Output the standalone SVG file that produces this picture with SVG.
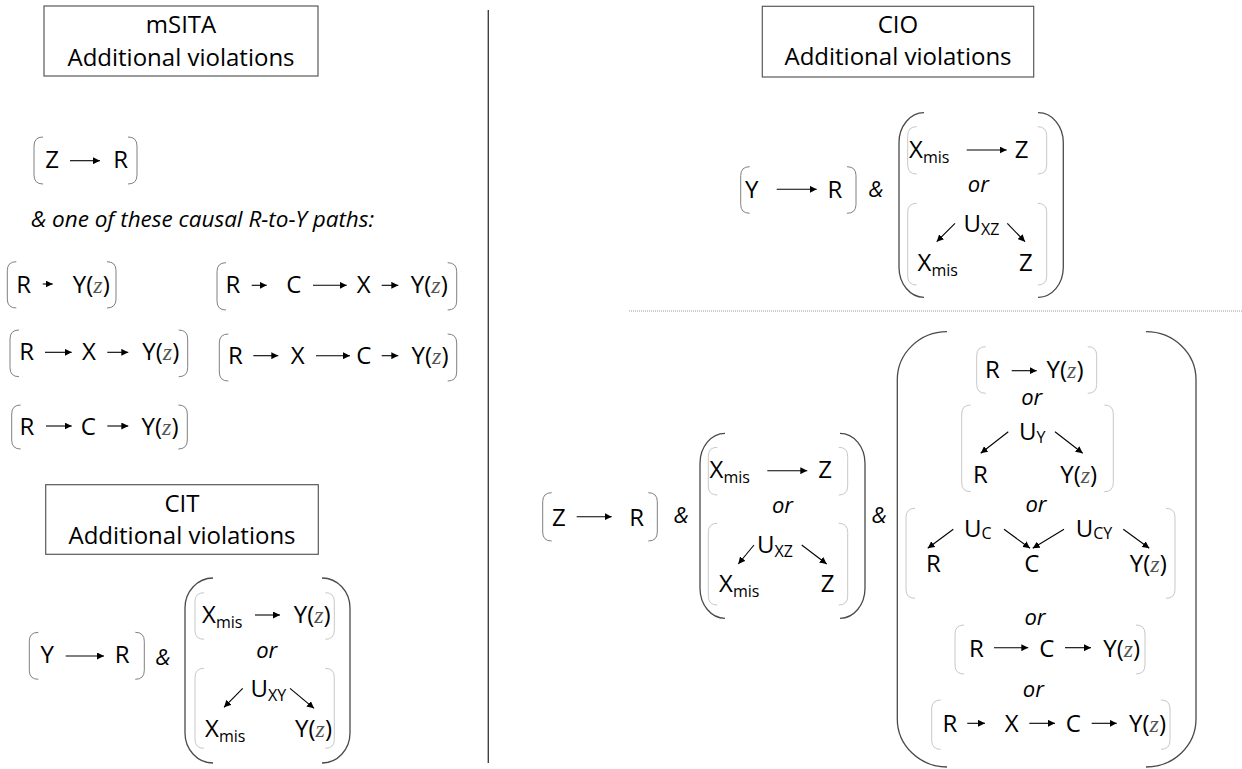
<svg xmlns="http://www.w3.org/2000/svg" width="1242" height="769" viewBox="0 0 1242 769">
<style>
text{font-family:"Open Sans","Liberation Sans",sans-serif;fill:#000}
.n{font-size:24px;text-anchor:middle}
.ns{font-size:24px;text-anchor:start}
.t{font-size:24px;text-anchor:middle}
.sub{font-size:16px}
.z{font-family:"Liberation Serif",serif;font-style:italic;fill:#555}
.it{font-style:italic;font-size:22px;text-anchor:middle}
.box{fill:none;stroke:#595959;stroke-width:1.2}
.b1{fill:none;stroke:#808080;stroke-width:1}
.b2{fill:none;stroke:#c8c8c8;stroke-width:1}
.bp{fill:none;stroke:#4a4a4a;stroke-width:1.3}
.a{stroke:#000;stroke-width:1.1;marker-end:url(#ah)}
</style>
<defs>
<marker id="ah" viewBox="0 0 8 8" refX="8" refY="4" markerWidth="7" markerHeight="7" markerUnits="userSpaceOnUse" orient="auto">
<path d="M0,0 L8,4 L0,8 z" fill="#000"/>
</marker>
</defs>
<rect width="1242" height="769" fill="#fff"/>

<g id="dividers">
<line x1="488.3" y1="10" x2="488.3" y2="763" stroke="#404040" stroke-width="1.4"/>
<line x1="629" y1="311" x2="1242" y2="311" stroke="#9a9a9a" stroke-width="1" stroke-dasharray="1 1"/>
</g>

<!-- mSITA -->
<g id="msita-title">
<rect class="box" x="44" y="6" width="274" height="70"/>
<text class="t" x="181" y="33">mSITA</text>
<text class="t" x="181" y="66">Additional violations</text>
</g>
<g id="msita-zr">
<path class="b1" d="M43,137 Q34,137 34,146 L34,175 Q34,184 43,184 M128,137 Q137,137 137,146 L137,175 Q137,184 128,184"/>
<text class="n" x="52" y="168">Z</text>
<text class="n" x="120.7" y="168">R</text>
</g>
<g id="msita-label">
<text x="31" y="227" style="font-style:italic;font-size:22.5px">&amp; one of these causal R-to-Y paths:</text>
</g>
<g id="path-ry">
<path class="b1" d="M16.3,261.7 Q7.3,261.7 7.3,270.7 L7.3,299 Q7.3,308 16.3,308 M107,261.7 Q116,261.7 116,270.7 L116,299 Q116,308 107,308"/>
<text class="n" x="23.7" y="292.7">R</text>
<text class="n" x="91.3" y="292.7">Y(<tspan class="z">z</tspan>)</text>
</g>
<g id="path-rcxy">
<path class="b1" d="M226,262.7 Q217,262.7 217,271.7 L217,301 Q217,310 226,310 M447.7,262.7 Q456.7,262.7 456.7,271.7 L456.7,301 Q456.7,310 447.7,310"/>
<text class="n" x="233" y="292.7">R</text>
<text class="n" x="293.7" y="292.7">C</text>
<text class="n" x="363.7" y="292.7">X</text>
<text class="n" x="429.3" y="292.7">Y(<tspan class="z">z</tspan>)</text>
</g>
<g id="path-rxy">
<path class="b1" d="M19,330 Q10,330 10,339 L10,367.7 Q10,376.7 19,376.7 M178.7,330 Q187.7,330 187.7,339 L187.7,367.7 Q187.7,376.7 178.7,376.7"/>
<text class="n" x="26.7" y="360">R</text>
<text class="n" x="89" y="360">X</text>
<text class="n" x="160.8" y="360">Y(<tspan class="z">z</tspan>)</text>
</g>
<g id="path-rxcy">
<path class="b1" d="M228.3,334 Q219.3,334 219.3,343 L219.3,372 Q219.3,381 228.3,381 M447.7,334 Q456.7,334 456.7,343 L456.7,372 Q456.7,381 447.7,381"/>
<text class="n" x="235.5" y="364">R</text>
<text class="n" x="297.8" y="364">X</text>
<text class="n" x="363.7" y="364">C</text>
<text class="n" x="430" y="364">Y(<tspan class="z">z</tspan>)</text>
</g>
<g id="path-rcy">
<path class="b1" d="M20.7,405 Q11.7,405 11.7,414 L11.7,440 Q11.7,449 20.7,449 M178.3,405 Q187.3,405 187.3,414 L187.3,440 Q187.3,449 178.3,449"/>
<text class="n" x="27" y="435">R</text>
<text class="n" x="88.3" y="435">C</text>
<text class="n" x="160" y="435">Y(<tspan class="z">z</tspan>)</text>
</g>

<!-- CIT -->
<g id="cit-title">
<rect class="box" x="45.7" y="484.7" width="272.6" height="69.6"/>
<text class="t" x="182" y="512.3">CIT</text>
<text class="t" x="182" y="544.3">Additional violations</text>
</g>
<g id="cit-yr">
<path class="b1" d="M38.3,632.3 Q29.3,632.3 29.3,641.3 L29.3,670.3 Q29.3,679.3 38.3,679.3 M135.3,632.3 Q144.3,632.3 144.3,641.3 L144.3,670.3 Q144.3,679.3 135.3,679.3"/>
<text class="n" x="47.2" y="663.3">Y</text>
<text class="n" x="122.2" y="663.3">R</text>
<text class="it" x="163" y="665">&amp;</text>
</g>
<g id="cit-options">
<path class="bp" d="M213,578 A28,30 0 0 0 185,608 L185,733 A28,30 0 0 0 213,763 M322,578 A28,30 0 0 1 350,608 L350,733 A28,30 0 0 1 322,763"/>
<path class="b2" d="M204,592.7 Q195,592.7 195,601.7 L195,630.3 Q195,639.3 204,639.3 M325.3,592.7 Q334.3,592.7 334.3,601.7 L334.3,630.3 Q334.3,639.3 325.3,639.3"/>
<text class="ns" x="202" y="623.3">X<tspan class="sub" dy="5">mis</tspan></text>
<text class="n" x="312.2" y="623.3">Y(<tspan class="z">z</tspan>)</text>
<text class="it" x="266.7" y="658.3">or</text>
<path class="b2" d="M204,668.3 Q195,668.3 195,677.3 L195,739.3 Q195,748.3 204,748.3 M325.3,668.3 Q334.3,668.3 334.3,677.3 L334.3,739.3 Q334.3,748.3 325.3,748.3"/>
<text class="ns" x="250.5" y="696.7">U<tspan class="sub" dy="4">XY</tspan></text>
<text class="ns" x="205" y="736.7">X<tspan class="sub" dy="5">mis</tspan></text>
<text class="n" x="313.5" y="736.7">Y(<tspan class="z">z</tspan>)</text>
</g>

<!-- CIO -->
<g id="cio-title">
<rect class="box" x="762.3" y="6.3" width="271.4" height="70.7"/>
<text class="t" x="898" y="33.3">CIO</text>
<text class="t" x="898" y="65">Additional violations</text>
</g>
<g id="cio-yr">
<path class="b1" d="M749.7,166.7 Q740.7,166.7 740.7,175.7 L740.7,204.3 Q740.7,213.3 749.7,213.3 M847,166.7 Q856,166.7 856,175.7 L856,204.3 Q856,213.3 847,213.3"/>
<text class="n" x="751.7" y="198.3">Y</text>
<text class="n" x="835" y="198.3">R</text>
<text class="it" x="875.8" y="196.7">&amp;</text>
</g>
<g id="cio-options">
<path class="bp" d="M924,112.7 A25,30 0 0 0 899,142.7 L899,267.3 A25,30 0 0 0 924,297.3 M1038,112.7 A25,30 0 0 1 1063.3,142.7 L1063.3,267.3 A25,30 0 0 1 1038,297.3"/>
<path class="b2" d="M916.7,126.7 Q907.7,126.7 907.7,135.7 L907.7,165 Q907.7,174 916.7,174 M1037.7,126.7 Q1046.7,126.7 1046.7,135.7 L1046.7,165 Q1046.7,174 1037.7,174"/>
<text class="ns" x="909" y="158.3">X<tspan class="sub" dy="5">mis</tspan></text>
<text class="n" x="1021.7" y="158.3">Z</text>
<text class="it" x="978.3" y="191.7">or</text>
<path class="b2" d="M916.7,203.3 Q907.7,203.3 907.7,212.3 L907.7,276 Q907.7,285 916.7,285 M1037.7,203.3 Q1046.7,203.3 1046.7,212.3 L1046.7,276 Q1046.7,285 1037.7,285"/>
<text class="ns" x="963.5" y="231.7">U<tspan class="sub" dy="3.5">XZ</tspan></text>
<text class="ns" x="917.5" y="270.7">X<tspan class="sub" dy="5">mis</tspan></text>
<text class="n" x="1025.8" y="270.7">Z</text>
</g>

<!-- Bottom right -->
<g id="br-zr">
<path class="b1" d="M551.7,492.7 Q542.7,492.7 542.7,501.7 L542.7,532 Q542.7,541 551.7,541 M648.3,492.7 Q657.3,492.7 657.3,501.7 L657.3,532 Q657.3,541 648.3,541"/>
<text class="n" x="558.8" y="526">Z</text>
<text class="n" x="636.7" y="526">R</text>
<text class="it" x="681.2" y="523.3">&amp;</text>
</g>
<g id="br-x-options">
<path class="bp" d="M725,433.3 A25,30 0 0 0 700,463.3 L700,588.3 A25,30 0 0 0 725,618.3 M840,433.3 A25,30 0 0 1 865,463.3 L865,588.3 A25,30 0 0 1 840,618.3"/>
<path class="b2" d="M717.3,447.3 Q708.3,447.3 708.3,456.3 L708.3,486 Q708.3,495 717.3,495 M838.7,447.3 Q847.7,447.3 847.7,456.3 L847.7,486 Q847.7,495 838.7,495"/>
<text class="ns" x="709.5" y="478.3">X<tspan class="sub" dy="5">mis</tspan></text>
<text class="n" x="825" y="478.3">Z</text>
<text class="it" x="782.5" y="513.3">or</text>
<path class="b2" d="M717.3,523.3 Q708.3,523.3 708.3,532.3 L708.3,596 Q708.3,605 717.3,605 M838.7,523.3 Q847.7,523.3 847.7,532.3 L847.7,596 Q847.7,605 838.7,605"/>
<text class="ns" x="757" y="553.3">U<tspan class="sub" dy="3.5">XZ</tspan></text>
<text class="ns" x="719" y="591.7">X<tspan class="sub" dy="5">mis</tspan></text>
<text class="n" x="827.5" y="591.7">Z</text>
<text class="it" x="879.2" y="523.3">&amp;</text>
</g>
<g id="br-y-options">
<path class="bp" d="M947,331.7 A50,48 0 0 0 897.3,379.7 L897.3,719 A50,48 0 0 0 947,767 M1146,331.7 A50,48 0 0 1 1196,379.7 L1196,719 A50,48 0 0 1 1146,767"/>
<path class="b2" d="M985.7,346.7 Q976.7,346.7 976.7,355.7 L976.7,384.3 Q976.7,393.3 985.7,393.3 M1087.7,346.7 Q1096.7,346.7 1096.7,355.7 L1096.7,384.3 Q1096.7,393.3 1087.7,393.3"/>
<text class="n" x="992.5" y="378.3">R</text>
<text class="n" x="1065" y="378.3">Y(<tspan class="z">z</tspan>)</text>
<text class="it" x="1031.7" y="405">or</text>
<path class="b2" d="M970.7,405 Q961.7,405 961.7,414 L961.7,482.7 Q961.7,491.7 970.7,491.7 M1104.3,405 Q1113.3,405 1113.3,414 L1113.3,482.7 Q1113.3,491.7 1104.3,491.7"/>
<text class="ns" x="1019" y="440">U<tspan class="sub" dy="2.5">Y</tspan></text>
<text class="n" x="980.3" y="483.3">R</text>
<text class="n" x="1078.7" y="483.3">Y(<tspan class="z">z</tspan>)</text>
<text class="it" x="1036" y="511.7">or</text>
<path class="b2" d="M915,508.3 Q906,508.3 906,517.3 L906,589.3 Q906,598.3 915,598.3 M1166,508.3 Q1175,508.3 1175,517.3 L1175,589.3 Q1175,598.3 1166,598.3"/>
<text class="ns" x="964" y="536.7">U<tspan class="sub" dy="2.5">C</tspan></text>
<text class="ns" x="1075.7" y="536.7">U<tspan class="sub" dy="2.5">CY</tspan></text>
<text class="n" x="933.3" y="571.7">R</text>
<text class="n" x="1031.7" y="571.7">C</text>
<text class="n" x="1148.3" y="571.7">Y(<tspan class="z">z</tspan>)</text>
<text class="it" x="1035" y="625">or</text>
<path class="b2" d="M964,625 Q955,625 955,634 L955,665 Q955,674 964,674 M1136,625 Q1145,625 1145,634 L1145,665 Q1145,674 1136,674"/>
<text class="n" x="976.3" y="656.7">R</text>
<text class="n" x="1046.7" y="656.7">C</text>
<text class="n" x="1121.7" y="656.7">Y(<tspan class="z">z</tspan>)</text>
<text class="it" x="1033.3" y="696.7">or</text>
<path class="b2" d="M940.7,700 Q931.7,700 931.7,709 L931.7,740.3 Q931.7,749.3 940.7,749.3 M1161,700 Q1170,700 1170,709 L1170,740.3 Q1170,749.3 1161,749.3"/>
<text class="n" x="950" y="731.7">R</text>
<text class="n" x="1011.7" y="731.7">X</text>
<text class="n" x="1073.3" y="731.7">C</text>
<text class="n" x="1147.5" y="731.7">Y(<tspan class="z">z</tspan>)</text>
</g>

<g id="connectors">
<line class="a" x1="70" y1="160.7" x2="100" y2="160.7"/>
<line class="a" x1="42.7" y1="284" x2="52.7" y2="284"/>
<line class="a" x1="251.7" y1="285.3" x2="266.7" y2="285.3"/>
<line class="a" x1="313" y1="285.3" x2="346.7" y2="285.3"/>
<line class="a" x1="381.7" y1="285.3" x2="398.3" y2="285.3"/>
<line class="a" x1="45" y1="352.3" x2="71.7" y2="352.3"/>
<line class="a" x1="107.3" y1="352.3" x2="128.3" y2="352.3"/>
<line class="a" x1="253.3" y1="355.7" x2="278.3" y2="355.7"/>
<line class="a" x1="316" y1="355.7" x2="350" y2="355.7"/>
<line class="a" x1="381.7" y1="355.7" x2="398.3" y2="355.7"/>
<line class="a" x1="46" y1="426" x2="71.7" y2="426"/>
<line class="a" x1="107.3" y1="426" x2="128.3" y2="426"/>
<line class="a" x1="65.7" y1="656" x2="104" y2="656"/>
<line class="a" x1="255" y1="615" x2="280" y2="615"/>
<line class="a" x1="242.7" y1="688.3" x2="224" y2="707.3"/>
<line class="a" x1="290" y1="688.3" x2="314" y2="708.3"/>
<line class="a" x1="776.7" y1="189.3" x2="816.7" y2="189.3"/>
<line class="a" x1="966.7" y1="150" x2="1006.7" y2="150"/>
<line class="a" x1="955" y1="223.3" x2="936.7" y2="241.7"/>
<line class="a" x1="1007.3" y1="223.3" x2="1025" y2="241.7"/>
<line class="a" x1="576.7" y1="516.7" x2="611.7" y2="516.7"/>
<line class="a" x1="767.3" y1="470.7" x2="807.3" y2="470.7"/>
<line class="a" x1="754" y1="545" x2="738.3" y2="564"/>
<line class="a" x1="801.7" y1="545" x2="826.7" y2="564"/>
<line class="a" x1="1011.7" y1="370.7" x2="1036.7" y2="370.7"/>
<line class="a" x1="1008.3" y1="431.7" x2="980.7" y2="453.3"/>
<line class="a" x1="1055" y1="431.7" x2="1082.7" y2="453.3"/>
<line class="a" x1="953.3" y1="529.3" x2="927.7" y2="548.3"/>
<line class="a" x1="1004" y1="529.3" x2="1030" y2="548.3"/>
<line class="a" x1="1064" y1="529.3" x2="1032.7" y2="548.3"/>
<line class="a" x1="1123.3" y1="529.3" x2="1149.3" y2="548.3"/>
<line class="a" x1="994" y1="647.7" x2="1028.3" y2="647.7"/>
<line class="a" x1="1065" y1="647.7" x2="1091" y2="647.7"/>
<line class="a" x1="967.3" y1="723.3" x2="985" y2="723.3"/>
<line class="a" x1="1029.3" y1="723.3" x2="1055" y2="723.3"/>
<line class="a" x1="1091.7" y1="723.3" x2="1116.7" y2="723.3"/>
</g>
</svg>
